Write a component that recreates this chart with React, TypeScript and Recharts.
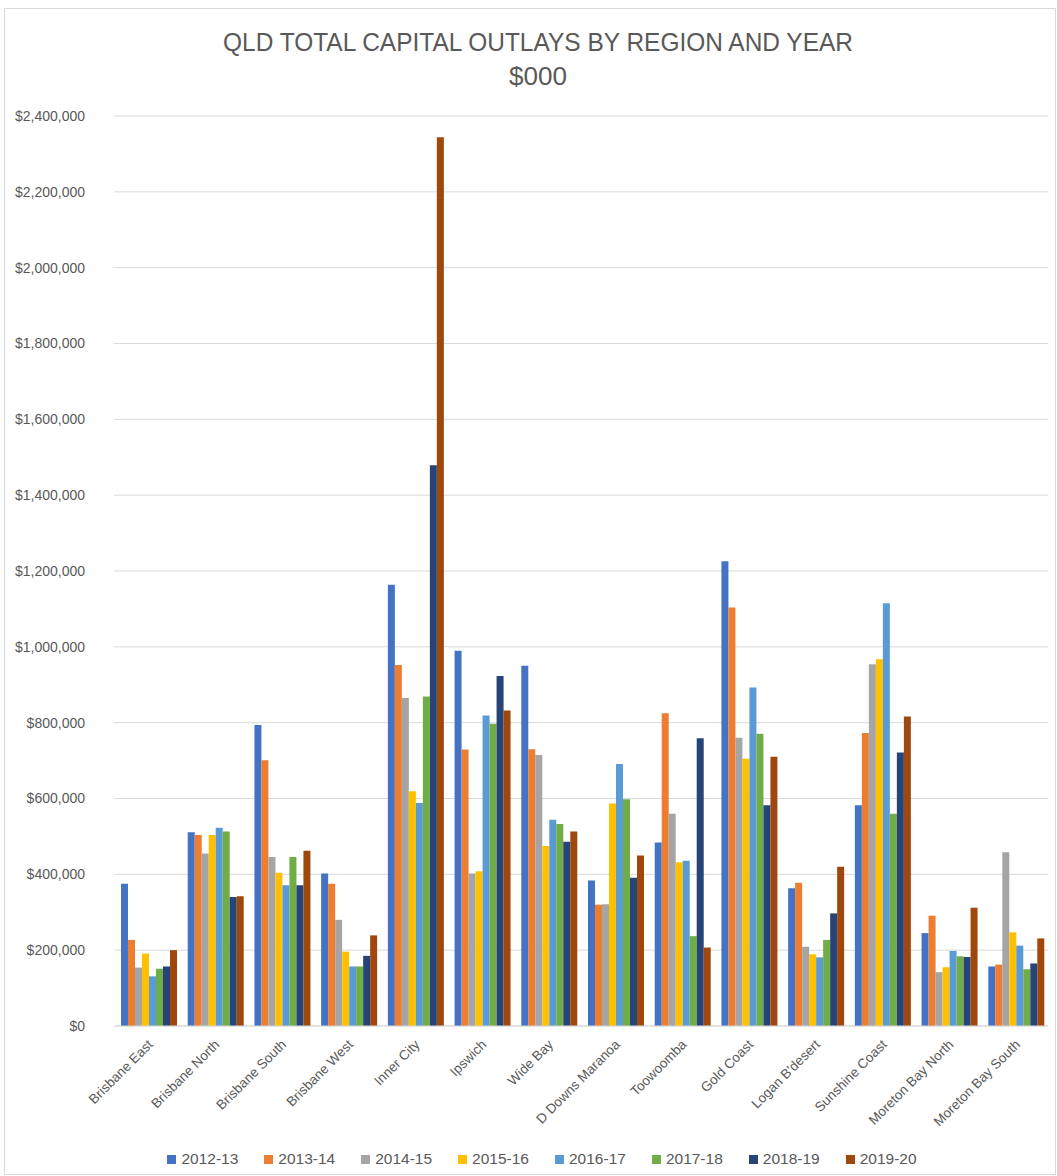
import { BarChart, Bar, XAxis, YAxis, CartesianGrid, Legend } from 'recharts';

const regions = ['Brisbane East', 'Brisbane North', 'Brisbane South', 'Brisbane West', 'Inner City', 'Ipswich', 'Wide Bay', 'D Downs Maranoa', 'Toowoomba', 'Gold Coast', "Logan B'desert", 'Sunshine Coast', 'Moreton Bay North', 'Moreton Bay South'];
const years = ['2012-13', '2013-14', '2014-15', '2015-16', '2016-17', '2017-18', '2018-19', '2019-20'];
const colors = ['#4472C4', '#ED7D31', '#A5A5A5', '#FFC000', '#5B9BD5', '#70AD47', '#264478', '#9E480E'];

const y1213 = [375000, 511000, 794000, 402000, 1164000, 990000, 950000, 384000, 484000, 1226000, 363000, 582000, 245000, 157000];
const y1314 = [227000, 504000, 701000, 375000, 952000, 729000, 730000, 320000, 825000, 1104000, 378000, 773000, 291000, 162000];
const y1415 = [154000, 455000, 446000, 280000, 865000, 402000, 715000, 321000, 560000, 760000, 209000, 954000, 142000, 458000];
const y1516 = [191000, 504000, 404000, 196000, 619000, 408000, 475000, 587000, 432000, 705000, 189000, 967000, 155000, 247000];
const y1617 = [131000, 523000, 371000, 157000, 588000, 819000, 544000, 691000, 436000, 893000, 181000, 1115000, 198000, 212000];
const y1718 = [151000, 513000, 446000, 157000, 869000, 797000, 533000, 598000, 237000, 771000, 227000, 560000, 184000, 150000];
const y1819 = [157000, 340000, 371000, 185000, 1479000, 923000, 486000, 391000, 759000, 582000, 297000, 721000, 182000, 165000];
const y1920 = [200000, 342000, 462000, 239000, 2344000, 832000, 513000, 450000, 207000, 710000, 420000, 816000, 312000, 231000];

const yTicks = [0, 200000, 400000, 600000, 800000, 1000000, 1200000, 1400000, 1600000, 1800000, 2000000, 2200000, 2400000];

const series = [y1213, y1314, y1415, y1516, y1617, y1718, y1819, y1920];
const data = regions.map((region, i) => {
  const row: Record<string, string | number> = { region };
  years.forEach((yr, j) => { row[yr] = series[j][i]; });
  return row;
});

const font = '"Liberation Sans", Arial, sans-serif';

const RegionTick = ({ x, y, payload }: any) => (
  <g transform={`translate(${x + 3},${y + 8})`}>
    <text x={0} y={0} dy="0.35em" textAnchor="end" transform="rotate(-45)" fill="#595959" fontSize={13.5} fontFamily={font}>
      {payload.value}
    </text>
  </g>
);

const LegendBox = () => (
  <div style={{ display: 'flex', justifyContent: 'center', fontFamily: font, fontSize: 15.5, color: '#595959', paddingLeft: 62 }}>
    {years.map((yr, i) => (
      <div key={yr} style={{ display: 'flex', alignItems: 'center', marginRight: 26 }}>
        <span style={{ width: 9, height: 9, background: colors[i], display: 'inline-block', marginRight: 5 }} />
        {yr}
      </div>
    ))}
  </div>
);

export default function App() {
  return (
    <div style={{ position: 'absolute', left: 0, top: 0, width: 1057, height: 1176, background: '#fff' }}>
      <div style={{ position: 'absolute', left: 4, top: 8, width: 1052, height: 1167, border: '1px solid #d9d9d9', boxSizing: 'border-box' }} />
      <svg style={{ position: 'absolute', left: 0, top: 0 }} width={1057} height={110}>
        <text x={538} y={51} textAnchor="middle" fontSize={25} fill="#595959" fontFamily={font} textLength={630} lengthAdjust="spacingAndGlyphs">
          QLD TOTAL CAPITAL OUTLAYS BY REGION AND YEAR
        </text>
        <text x={538} y={85} textAnchor="middle" fontSize={25} fill="#595959" fontFamily={font} textLength={58} lengthAdjust="spacingAndGlyphs">
          $000
        </text>
      </svg>
      <div style={{ position: 'absolute', left: 0, top: 0 }}>
        <BarChart width={1057} height={1176} data={data} margin={{ top: 116, right: 9, left: 0, bottom: 8 }} barCategoryGap={7} barGap={0}>
          <CartesianGrid vertical={false} stroke="#d9d9d9" />
          <XAxis dataKey="region" interval={0} height={124} tickLine={false} axisLine={{ stroke: '#d9d9d9' }} tick={<RegionTick />} />
          <YAxis width={114} domain={[0, 2400000]} ticks={yTicks} axisLine={false} tickLine={false} tickSize={0} tickMargin={29}
            tick={{ fill: '#595959', fontSize: 14, fontFamily: font }}
            tickFormatter={(v: number) => '$' + v.toLocaleString('en-US')} />
          <Legend verticalAlign="bottom" content={<LegendBox />} />
          {years.map((yr, i) => (
            <Bar key={yr} dataKey={yr} fill={colors[i]} isAnimationActive={false} />
          ))}
        </BarChart>
      </div>
    </div>
  );
}
